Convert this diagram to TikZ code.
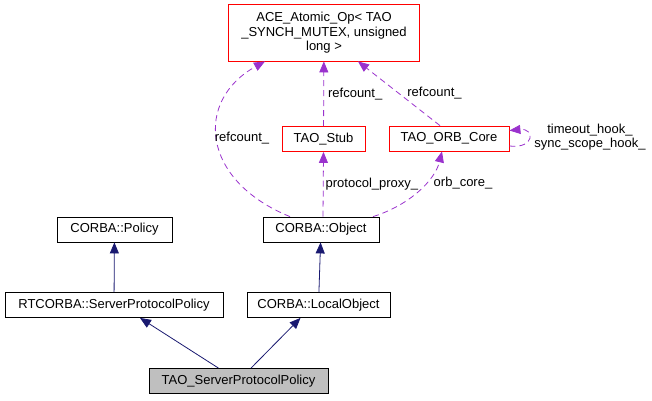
\documentclass[tikz,border=0pt]{standalone}
\usepackage{fontspec}
\setmainfont{Liberation Sans}
\usetikzlibrary{arrows.meta}
\definecolor{inhblue}{HTML}{191970}
\definecolor{usepurple}{HTML}{9A32CD}
\definecolor{refred}{HTML}{FF0000}
\tikzset{
  cls/.style={draw=black,text=black,line width=0.8pt,minimum height=25pt,inner sep=2pt,
    font=\fontsize{13}{14.5}\selectfont},
  refcls/.style={cls,draw=refred},
  inh/.style={inhblue,line width=0.8pt,-{Triangle[length=11pt,width=9pt]}},
  usedby/.style={usepurple,line width=0.8pt,dash pattern=on 6pt off 4pt,
    -{Triangle[length=11pt,width=9pt]}},
  lbl/.style={text=black,font=\fontsize{13}{14}\selectfont,inner sep=2pt}
}
\begin{document}
\begin{tikzpicture}[x=1pt,y=-1pt]
\useasboundingbox (0,0) rectangle (652,400);
\node [refcls,minimum width=83pt] (stub) at (323.5,139) {TAO\_Stub};
\node [refcls,minimum width=120pt] (orb) at (449,138.5) {TAO\_ORB\_Core};
\node [refcls,draw=none,minimum width=190pt,minimum height=56pt,align=center] (ace) at (324,33)
  {ACE\_Atomic\_Op\textless{} TAO\\\_SYNCH\_MUTEX, unsigned\\long \textgreater};
\draw [refred,line width=0.8pt] (ace.south west) rectangle (ace.north east);
\node [cls,minimum width=116pt] (object) at (321,229.5) {CORBA::Object};
\node [cls,minimum width=115pt] (policy) at (114.5,229.5) {CORBA::Policy};
\node [cls,minimum width=218pt] (rtpolicy) at (114,305) {RTCORBA::ServerProtocolPolicy};
\node [cls,minimum width=143pt] (local) at (318.5,305) {CORBA::LocalObject};
\node [cls,minimum width=179pt,fill=black!25] (tsp) at (238.5,381) {TAO\_ServerProtocolPolicy};
% inheritance
\draw [inh] (rtpolicy) -- (policy);
\draw [inh] (local) -- (object);
\draw [inh] ([xshift=-20pt]tsp.north) -- ([xshift=26pt]rtpolicy.south);
\draw [inh] ([xshift=12.5pt]tsp.north) -- ([xshift=-18pt]local.south);
% usage
\draw [usedby] ([xshift=-31pt]object.north) .. controls (200,180) and (195,100) .. ([xshift=-59pt]ace.south);
\node [lbl] (lobjace) at (242,138) {refcount\_};
\draw [usedby] (stub) -- (ace) node [lbl,midway,right=2pt] {refcount\_};
\draw [usedby] ([xshift=-9pt]orb.north) -- ([xshift=34pt]ace.south) node [lbl,midway,right=6pt] {refcount\_};
\draw [usedby] ([xshift=2pt]object.north) -- (stub.south) node [lbl,midway,right] {protocol\_proxy\_};
\draw [usedby] ([xshift=52pt]object.north) .. controls (410,205) and (435,180) .. ([xshift=-7pt]orb.south);
\node [lbl] (lobjorb) at (463,183) {orb\_core\_};
\draw [usedby] ([yshift=-7.5pt]orb.east) .. controls (535,149) and (535,128) .. ([yshift=8pt]orb.east);
\node [lbl,align=center] (lhooks) at (590,137.5) {timeout\_hook\_\\sync\_scope\_hook\_};
\end{tikzpicture}
\end{document}
